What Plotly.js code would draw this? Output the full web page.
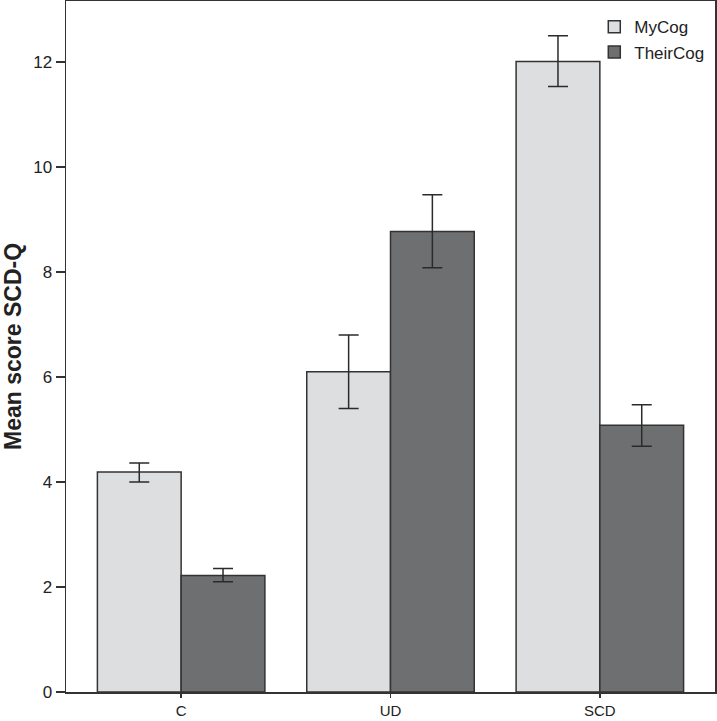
<!DOCTYPE html>
<html>
<head>
<meta charset="utf-8">
<script src="https://cdn.plot.ly/plotly-3.0.1.min.js"></script>
<style>html,body{margin:0;padding:0;background:#fff;}#chart{width:717px;height:721px;}</style>
</head>
<body>
<div id="chart"></div>
<script>
var categories = ["C", "UD", "SCD"];
var seriesNames = ["MyCog", "TheirCog"];
var myCog = [4.19, 6.10, 12.01];
var myCogUpper = [4.36, 6.80, 12.50];
var myCogLower = [4.00, 5.40, 11.53];
var theirCog = [2.22, 8.77, 5.08];
var theirCogUpper = [2.35, 9.47, 5.47];
var theirCogLower = [2.10, 8.08, 4.68];
var yTicks = [0, 2, 4, 6, 8, 10, 12];

function diff(a, b) { return a.map(function (v, i) { return +(v - b[i]).toFixed(3); }); }

var t1 = {
  type: "bar", x: categories, name: seriesNames[0], y: myCog, hoverinfo: "skip",
  marker: { color: "#dddee0", line: { color: "#333333", width: 1.5 } },
  error_y: { type: "data", symmetric: false, array: diff(myCogUpper, myCog), arrayminus: diff(myCog, myCogLower), color: "#2b2b2b", thickness: 1.5, width: 10 }
};
var t2 = {
  type: "bar", x: categories, name: seriesNames[1], y: theirCog, hoverinfo: "skip",
  marker: { color: "#6e6f71", line: { color: "#333333", width: 1.5 } },
  error_y: { type: "data", symmetric: false, array: diff(theirCogUpper, theirCog), arrayminus: diff(theirCog, theirCogLower), color: "#2b2b2b", thickness: 1.5, width: 10 }
};

var layout = {
  width: 717, height: 721,
  margin: { l: 66, r: 2, t: 1, b: 29 },
  paper_bgcolor: "#ffffff", plot_bgcolor: "#ffffff",
  barmode: "group", bargap: 0.2, bargroupgap: 0,
  font: { family: "Liberation Sans, Arial, sans-serif", color: "#222222", size: 16 },
  showlegend: true,
  legend: {
    x: 0.814, y: 0.988, xanchor: "left", yanchor: "top",
    bgcolor: "rgba(0,0,0,0)", borderwidth: 0,
    font: { size: 17, color: "#222222" },
    itemwidth: 30, tracegroupgap: 0
  },
  xaxis: {
    type: "category", range: [-0.55, 2.55],
    showline: true, linecolor: "#333333", linewidth: 1.5, mirror: true,
    ticks: "outside", ticklen: 4, tickcolor: "#333333", tickwidth: 1.5,
    showgrid: false, zeroline: false,
    tickfont: { size: 15, color: "#222222" }
  },
  yaxis: {
    range: [0, 13.16],
    tickvals: yTicks, ticktext: yTicks.map(String),
    showline: true, linecolor: "#333333", linewidth: 1.5, mirror: true,
    ticks: "outside", ticklen: 9, tickcolor: "#333333", tickwidth: 1.5,
    showgrid: false, zeroline: false,
    tickfont: { size: 17, color: "#222222" },
    title: { text: "<b>Mean score SCD-Q</b>", font: { size: 23, color: "#222222" }, standoff: 20 }
  }
};

Plotly.newPlot("chart", [t1, t2], layout, { displayModeBar: false, staticPlot: true });
</script>
</body>
</html>
